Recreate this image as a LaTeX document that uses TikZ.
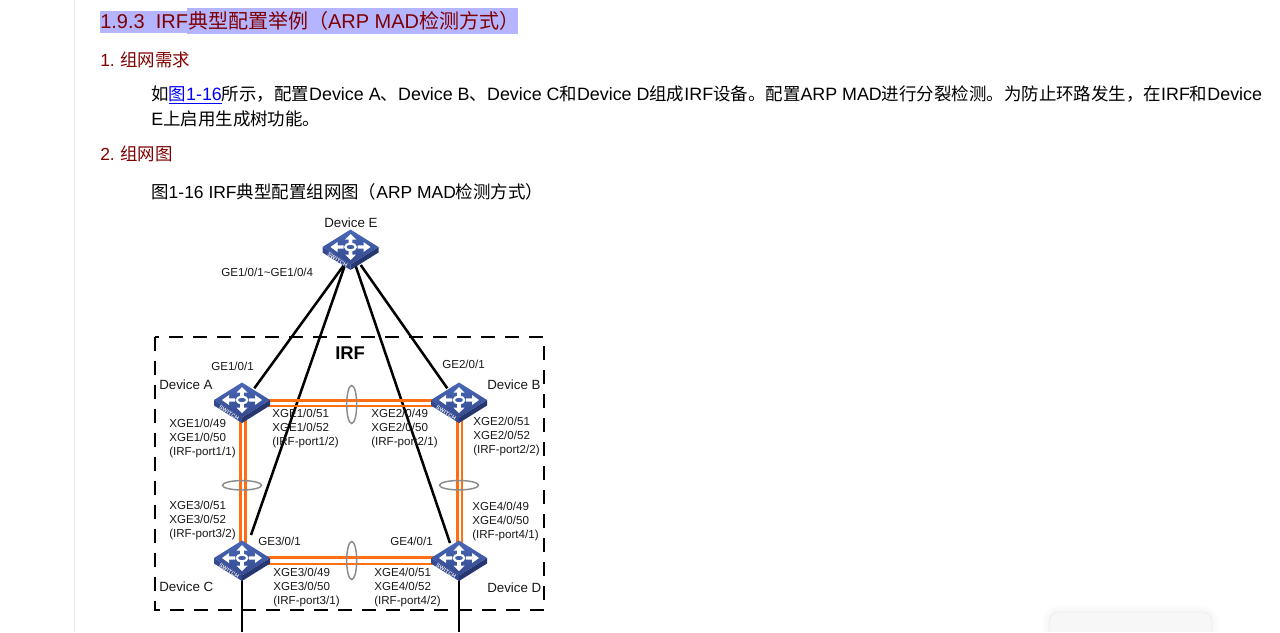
\documentclass[tikz,border=0pt]{standalone}
\usepackage{fontspec}
\setmainfont{Liberation Sans}
\newfontfamily\cjk{Noto Sans CJK SC}
\newfontfamily\cjkb[Scale=0.977]{Noto Sans CJK SC}
\newcommand{\zh}[1]{{\cjk #1}}
\newcommand{\zb}[1]{{\cjkb #1}}
\definecolor{headred}{HTML}{800000}
\definecolor{selblue}{HTML}{B4B4FF}
\definecolor{irforange}{HTML}{FF6E10}
\definecolor{ringgray}{HTML}{8C8C8C}
\definecolor{swtop}{HTML}{3F5CA8}
\definecolor{swtophi}{HTML}{4A68B8}
\definecolor{swtoplo}{HTML}{34498F}
\definecolor{swleft}{HTML}{34498F}
\definecolor{swright}{HTML}{26366E}
\tikzset{
  px/.style={x=0.75pt,y=-0.75pt},
  heading/.style={anchor=base west,inner sep=0pt,text=headred,font=\fontsize{13.1}{16}\selectfont},
  bodytext/.style={anchor=base west,inner sep=0pt,text=black,font=\fontsize{13.4}{16}\selectfont},
  portlabel/.style={anchor=west,inner sep=0pt,align=left,text=black!90,font=\fontsize{8.7}{10.5}\selectfont},
  devlabel/.style={anchor=west,inner sep=0pt,text=black!90,font=\fontsize{10}{12}\selectfont},
  uplink/.style={draw=black,line width=1.9pt},
  irflink/.style={draw=irforange,line width=2pt},
  ring/.style={draw=ringgray,line width=1.1pt},
  switchpoint/.style={coordinate},
  switchicon/.pic={
    \fill[swleft] (-28,0) -- (0,17.5) -- (0,23) -- (-28,5.5) -- cycle;
    \fill[swright] (28,0) -- (0,17.5) -- (0,23) -- (28,5.5) -- cycle;
    \shade[top color=swtophi,bottom color=swtoplo] (0,-17.5) -- (28,0) -- (0,17.5) -- (-28,0) -- cycle;
    \foreach \sx in {1,-1}{
      \fill[white] (\sx*7,-1.6) -- (\sx*13,-1.6) -- (\sx*13,-5) -- (\sx*20,0) -- (\sx*13,5) -- (\sx*13,1.6) -- (\sx*7,1.6) -- cycle;
      \fill[white] (-1.9,\sx*4) -- (-1.9,\sx*7.5) -- (-5.5,\sx*7.5) -- (0,\sx*13) -- (5.5,\sx*7.5) -- (1.9,\sx*7.5) -- (1.9,\sx*4) -- cycle;
    }
    \draw[white,line width=1.6pt,fill=swtop] (0,0) ellipse [x radius=5.3,y radius=3.4];
    \node[rotate=-31,inner sep=0pt,text=white!90!swleft,font=\bfseries\fontsize{4.2}{5}\selectfont] at (-13,13) {SWITCH};
  }
}
\begin{document}
\begin{tikzpicture}[px]
\useasboundingbox (0,0) rectangle (1280,632);
\fill[white] (0,0) rectangle (1280,632);
% page furniture
\fill[black!9] (74,0) rectangle (75.2,632);
\fill[selblue] (100,11) rectangle (187,33);
\fill[selblue] (187,8) rectangle (518,33.5);
\begin{scope}
\clip (1030,590) rectangle (1280,632);
\foreach \g/\o in {7/0.006,5/0.008,3/0.01}
  \fill[black,opacity=\o] (1049-\g,632) -- (1049-\g,622) arc[start angle=180,end angle=270,radius=10+\g] -- (1202,612-\g) arc[start angle=270,end angle=360,radius=10+\g] -- (1212+\g,632) -- cycle;
\filldraw[fill=black!3,draw=black!7,line width=0.6pt] (1049,632) -- (1049,622) arc[start angle=180,end angle=270,radius=10] -- (1202,612) arc[start angle=270,end angle=360,radius=10] -- (1212,632);
\end{scope}
% document text
\node[heading,font=\fontsize{15}{18}\selectfont] (title) at (100,28.5) {1.9.3\ \ IRF\zh{典型配置举例（}ARP MAD\zh{检测方式）}};
\node[heading] (h1) at (100,66.5) {1.\hspace{4pt}\zh{组网需求}};
\node[bodytext] (p1) at (151,100) {\zb{如}\textcolor{blue}{\underline{\zb{图}1-16}}\zb{所示，配置}Device A\zb{、}Device B\zb{、}Device C\zb{和}Device D\zb{组成}IRF\zb{设备。配置}ARP MAD\zb{进行分裂检测。为防止环路发生，在}IRF\zb{和}Device};
\node[bodytext] (p2) at (151,125.5) {E\zb{上启用生成树功能。}};
\node[heading] (h2) at (100,160) {2.\hspace{4pt}\zh{组网图}};
\node[bodytext,font=\fontsize{13.1}{16}\selectfont] (cap) at (151,198.5) {\zh{图}1-16 IRF\zh{典型配置组网图（}ARP MAD\zh{检测方式）}};
% IRF boundary
\draw[black,line width=1.5pt,dash pattern=on 10.5pt off 7.5pt] (155,337) rectangle (544,610);
% switch positions
\node[switchpoint] (E) at (350.5,247) {};
\node[switchpoint] (A) at (242,400) {};
\node[switchpoint] (B) at (459,400) {};
\node[switchpoint] (C) at (242,558) {};
\node[switchpoint] (D) at (459,558) {};
\coordinate (Ea) at (344,265);
\coordinate (Ec) at (345,265);
\coordinate (Ed) at (355.7,266);
\coordinate (Eb) at (360.7,265);
\coordinate (Aup) at (254.3,388.3);
\coordinate (Bup) at (447.3,388.3);
\coordinate (Cup) at (251,535);
\coordinate (Dup) at (450,543);
\coordinate (Cdown) at (242,632);
\coordinate (Ddown) at (459,632);
% uplinks
\draw[uplink] (Ea) -- (Aup);
\draw[uplink] (Ec) -- (Cup);
\draw[uplink] (Ed) -- (Dup);
\draw[uplink] (Eb) -- (Bup);
\draw[uplink] (C) -- (Cdown);
\draw[uplink] (D) -- (Ddown);
% IRF links
\draw[irflink] ([yshift=-0.4pt]A.center) -- ([yshift=-0.4pt]B.center);
\draw[irflink] ([yshift=-4.5pt]A.center) -- ([yshift=-4.5pt]B.center);
\draw[irflink] ([yshift=0.4pt]C.center) -- ([yshift=0.4pt]D.center);
\draw[irflink] ([yshift=-4.5pt]C.center) -- ([yshift=-4.5pt]D.center);
\draw[irflink] ([xshift=-1.1pt]A.center) -- ([xshift=-1.1pt]C.center);
\draw[irflink] ([xshift=2.4pt]A.center) -- ([xshift=2.4pt]C.center);
\draw[irflink] ([xshift=-1.3pt]B.center) -- ([xshift=-1.3pt]D.center);
\draw[irflink] ([xshift=2.25pt]B.center) -- ([xshift=2.25pt]D.center);
% rings
\draw[ring] (351.7,404.5) ellipse [x radius=5,y radius=19];
\draw[ring] (351.7,560.5) ellipse [x radius=5,y radius=19];
\draw[ring] (242,485.3) ellipse [x radius=19.5,y radius=4.7];
\draw[ring] (459,485.2) ellipse [x radius=19.5,y radius=4.7];
% switches
\pic at (E) {switchicon};
\pic at (A) {switchicon};
\pic at (B) {switchicon};
\pic at (C) {switchicon};
\pic at (D) {switchicon};
% labels
\node[devlabel] (lE) at (324,223) {Device E};
\node[portlabel] (lEports) at (221,272) {GE1/0/1\textasciitilde GE1/0/4};
\node[anchor=west,inner sep=0pt,font=\bfseries\fontsize{13.8}{16}\selectfont] (irf) at (335,353) {IRF};
\node[portlabel] (lA1) at (211,366) {GE1/0/1};
\node[devlabel] (lA) at (159,385) {Device A};
\node[portlabel] (lB1) at (442,364) {GE2/0/1};
\node[devlabel] (lB) at (487,385) {Device B};
\node[portlabel] (p1a) at (169,438) {XGE1/0/49\\XGE1/0/50\\(IRF-port1/1)};
\node[portlabel] (p1b) at (272,428) {XGE1/0/51\\XGE1/0/52\\(IRF-port1/2)};
\node[portlabel] (p2a) at (371,428) {XGE2/0/49\\XGE2/0/50\\(IRF-port2/1)};
\node[portlabel] (p2b) at (473,436) {XGE2/0/51\\XGE2/0/52\\(IRF-port2/2)};
\node[portlabel] (p3b) at (169,520.5) {XGE3/0/51\\XGE3/0/52\\(IRF-port3/2)};
\node[portlabel] (p4a) at (472,521) {XGE4/0/49\\XGE4/0/50\\(IRF-port4/1)};
\node[portlabel] (lC1) at (258,541) {GE3/0/1};
\node[portlabel] (lD1) at (390,541) {GE4/0/1};
\node[portlabel] (p3a) at (273,587) {XGE3/0/49\\XGE3/0/50\\(IRF-port3/1)};
\node[portlabel] (p4b) at (374,587) {XGE4/0/51\\XGE4/0/52\\(IRF-port4/2)};
\node[devlabel] (lC) at (159,587) {Device C};
\node[devlabel] (lD) at (487,588) {Device D};
\end{tikzpicture}
\end{document}
